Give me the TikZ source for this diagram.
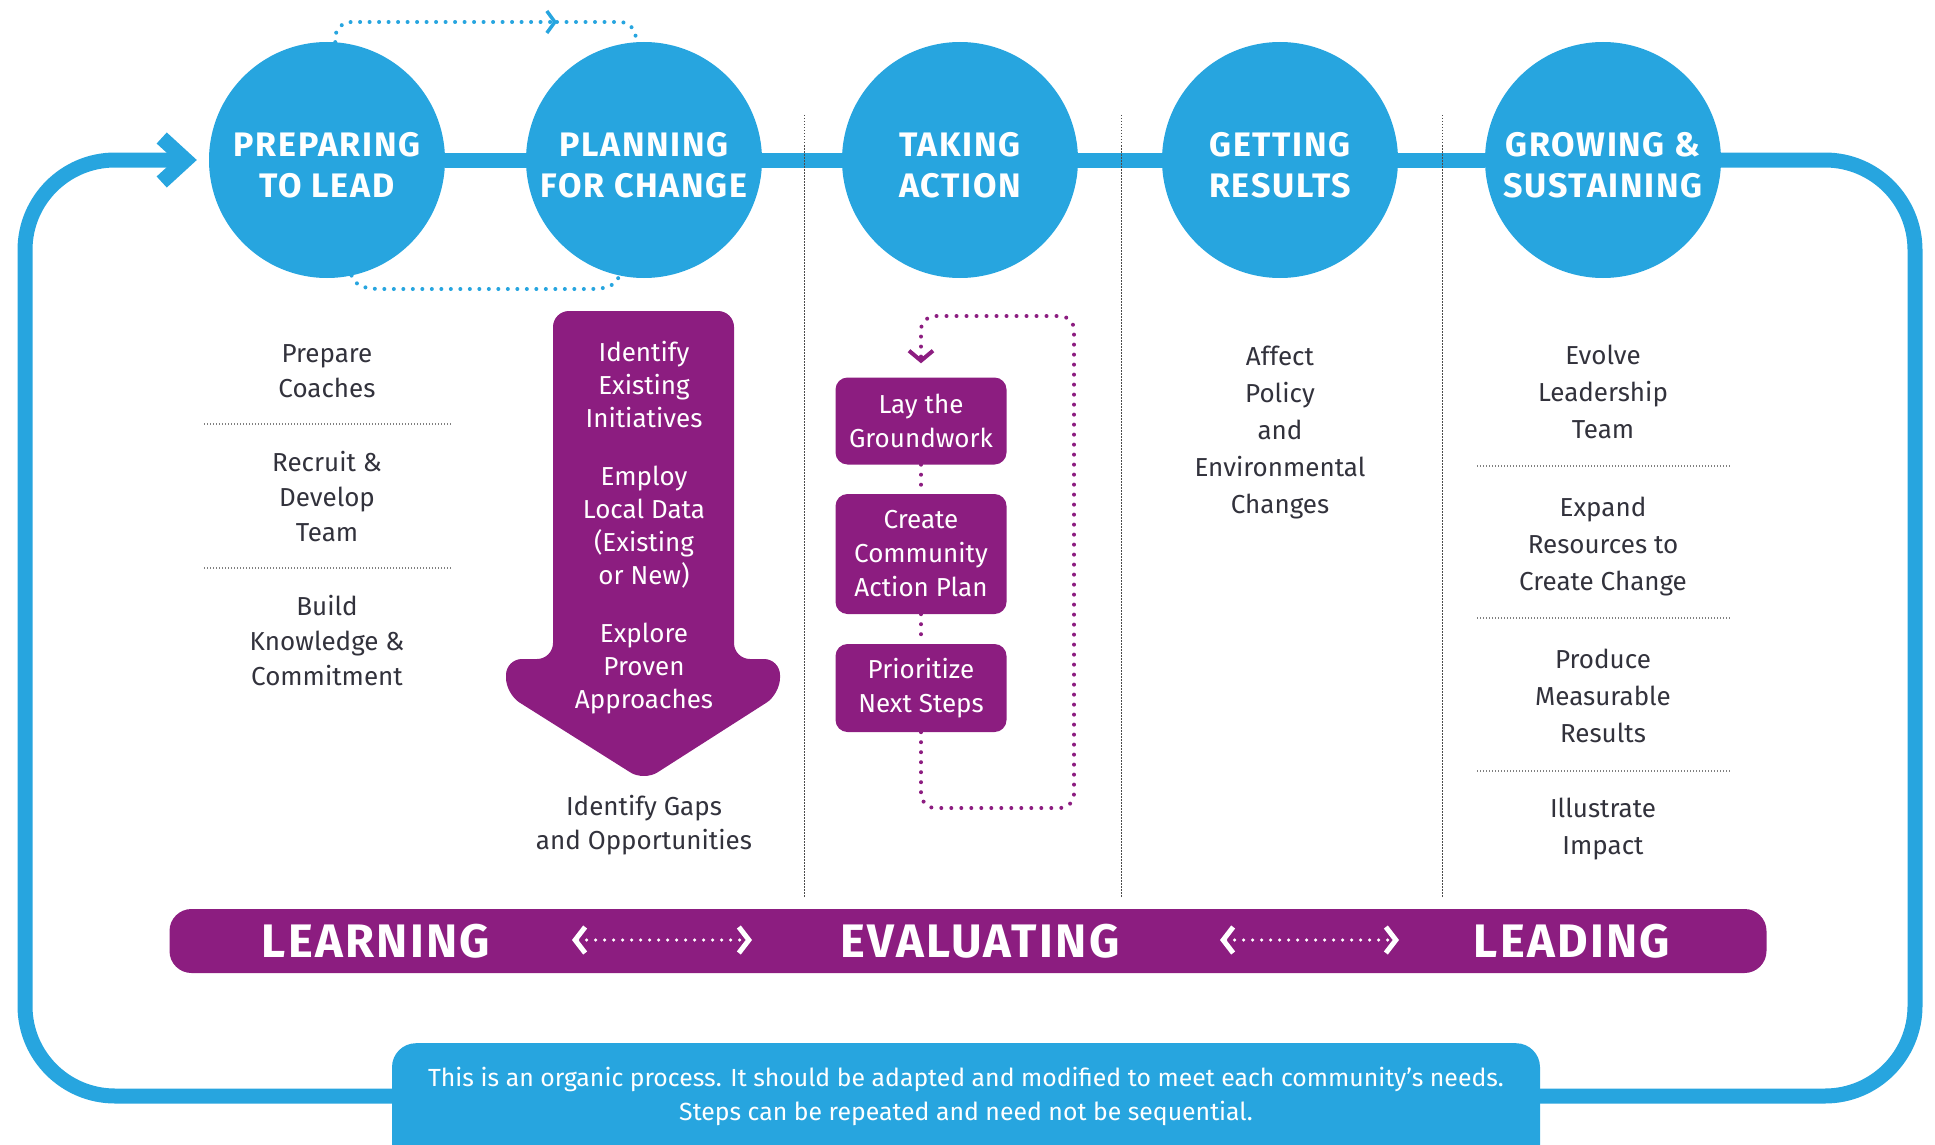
\documentclass[tikz,border=0pt]{standalone}
\usepackage{fontspec}
\setmainfont{Fira Sans}
\newfontfamily\headfont[LetterSpace=5]{Fira Sans}
\newfontfamily\barfont[LetterSpace=5]{Fira Sans}
\usetikzlibrary{arrows.meta, backgrounds}

\definecolor{cblue}{RGB}{39,165,223}
\definecolor{cpurple}{RGB}{140,29,128}
\definecolor{ink}{RGB}{50,50,60}

\tikzset{
  phase/.style={circle, fill=cblue, minimum size=236pt, inner sep=0pt},
  phasetext/.style={text=white, align=center, inner sep=0pt, font=\fontsize{34}{41}\selectfont\headfont\bfseries},
  coltext/.style={text=ink, align=center, inner sep=0pt, font=\fontsize{26}{35}\selectfont},
  inarrow/.style={coltext, text=white, font=\fontsize{26}{33}\selectfont},
  task/.style={rectangle, rounded corners=12pt, fill=cpurple, text=white, minimum width=171pt, inner sep=0pt, align=center, font=\fontsize{26}{34}\selectfont},
  bartext/.style={text=white, inner sep=0pt, font=\fontsize{47}{47}\selectfont\barfont\bfseries},
  sepline/.style={draw=gray, line width=1.2pt, dash pattern=on 1pt off 2pt},
  divider/.style={draw=gray!60!black, line width=1pt, dash pattern=on 1.5pt off 1.5pt},
  bdots/.style={draw=cblue, line width=4pt, line cap=round, dash pattern=on 0pt off 9.5pt},
  pdots/.style={draw=cpurple, line width=4pt, line cap=round, dash pattern=on 0pt off 10pt},
  wdots/.style={draw=white, line width=3.5pt, line cap=round, dash pattern=on 0pt off 9pt},
}

\begin{document}
\begin{tikzpicture}[x=1pt, y=-1pt]
    \useasboundingbox (0,0) rectangle (1935,1145);
    \clip (0,0) rectangle (1935,1145);

    \foreach \nm/\cx/\lbl in {prep/327/{PREPARING\\TO LEAD}, plan/644/{PLANNING\\FOR CHANGE}, act/960/{TAKING\\ACTION}, res/1280/{GETTING\\RESULTS}, grow/1603/{GROWING \&\\SUSTAINING}}
    {
    \node (\nm) [phase] at (\cx,160) {};
    \node (\nm t) [phasetext] at (\cx,165) {\lbl};
    }

    \begin{scope}[on background layer]
    \draw[cblue, line width=15pt] (prep) -- (grow);
    \draw[cblue, line width=15pt, rounded corners=90pt, -{Straight Barb[length=24pt, width=44pt]}, shorten >=12pt] (grow.east) -- (1915,160) -- (1915,1096) -- (25,1096) -- (25,160) -- (prep.west);
    \end{scope}

    \draw[bdots, rounded corners=16pt, -{Straight Barb[length=8pt, width=22pt, line width=3.5pt]}] (prep.86) |- (557,22);
    \draw[bdots, rounded corners=16pt] (557,22) -| (plan.94);
    \draw[bdots] (prep.-78) to[out=-70, in=180] (385,289) -- (590,289) to[out=0, in=-110] (plan.-102);

    \foreach \x in {804,1121,1442}
    \draw[divider] (\x,115) -- (\x,897);

    \node (coach) [coltext] at (327,371) {Prepare\\Coaches};
    \node (team) [coltext] at (327,497) {Recruit \&\\Develop\\Team};
    \node (know) [coltext] at (327,641) {Build\\Knowledge \&\\Commitment};
    \draw[sepline] (204,424) -- (451,424);
    \draw[sepline] (204,568) -- (451,568);

    \fill[cpurple, rounded corners=16pt] (553,311) -- (734,311) -- (734,659) -- (780,659) -- (780,694) -- (644,781) -- (506,694) -- (506,659) -- (553,659) -- cycle;
    \node (init) [inarrow] at (644,385) {Identify\\Existing\\Initiatives};
    \node (data) [inarrow] at (644,527) {Employ\\Local Data\\(Existing\\or New)};
    \node (appr) [inarrow] at (644,669) {Explore\\Proven\\Approaches};
    \node (gaps) [coltext, font=\fontsize{26}{34}\selectfont] at (644,825) {Identify Gaps\\and Opportunities};

    \node (ground) [task, minimum height=87pt] at (921,421) {Lay the\\Groundwork};
    \node (cap) [task, minimum height=120pt] at (921,554) {Create\\Community\\Action Plan};
    \node (steps) [task, minimum height=88pt] at (921,688) {Prioritize\\Next Steps};
    \draw[pdots] (ground) -- (cap);
    \draw[pdots] (cap) -- (steps);
    \draw[pdots, rounded corners=14pt, -{Straight Barb[length=10pt, width=24pt, line width=4pt]}, shorten >=14pt] (steps.south) -- (921,808) -| (1074,316) -| (ground.north);

    \node (policy) [coltext, font=\fontsize{26}{37}\selectfont] at (1280,433) {Affect\\Policy\\and\\Environmental\\Changes};

    \node (evolve) [coltext, font=\fontsize{26}{37}\selectfont] at (1603,392) {Evolve\\Leadership\\Team};
    \node (expand) [coltext, font=\fontsize{26}{37}\selectfont] at (1603,547) {Expand\\Resources to\\Create Change};
    \node (measure) [coltext, font=\fontsize{26}{37}\selectfont] at (1603,696) {Produce\\Measurable\\Results};
    \node (impact) [coltext, font=\fontsize{26}{37}\selectfont] at (1603,829) {Illustrate\\Impact};
    \draw[sepline] (1477,466) -- (1730,466);
    \draw[sepline] (1477,618) -- (1730,618);
    \draw[sepline] (1477,771) -- (1730,771);

    \node (bar) [fill=cpurple, rounded corners=22pt, minimum width=1597pt, minimum height=64pt, inner sep=0pt] at (968,941) {};
    \node (learn) [bartext] at (376,941) {LEARNING};
    \node (eval) [bartext] at (980,941) {EVALUATING};
    \node (lead) [bartext] at (1572,941) {LEADING};
    \coordinate (l1) at (572,940);
    \coordinate (l2) at (752,940);
    \coordinate (r1) at (1220,940);
    \coordinate (r2) at (1399,940);
    \draw[wdots, {Straight Barb[length=10pt, width=26pt, line width=5pt]}-{Straight Barb[length=10pt, width=26pt, line width=5pt]}] (l1) -- (l2);
    \draw[wdots, {Straight Barb[length=10pt, width=26pt, line width=5pt]}-{Straight Barb[length=10pt, width=26pt, line width=5pt]}] (r1) -- (r2);

    \node (note) [fill=cblue, rounded corners=24pt, minimum width=1148pt, minimum height=160pt, anchor=north] at (966,1043) {};
    \node (notetxt) [text=white, align=center, font=\fontsize{24.8}{34}\selectfont] at (966,1096) {This is an organic process. It should be adapted and modified to meet each community’s needs.\\Steps can be repeated and need not be sequential.};

\end{tikzpicture}
\end{document}
